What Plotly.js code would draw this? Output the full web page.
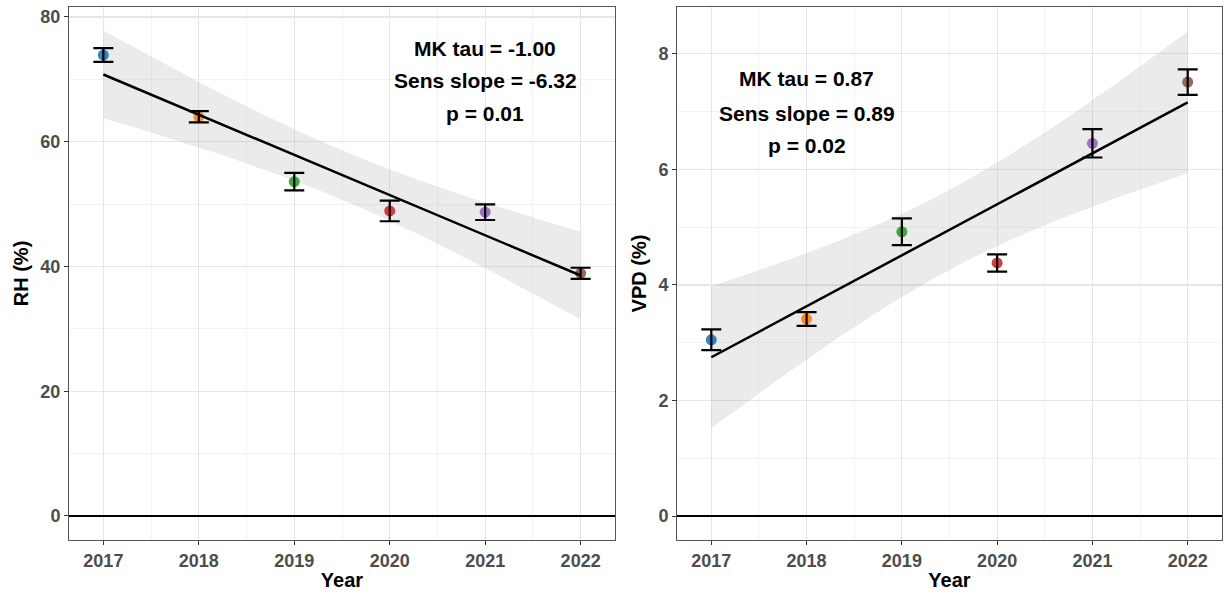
<!DOCTYPE html>
<html>
<head>
<meta charset="utf-8">
<script src="https://cdn.plot.ly/plotly-3.0.1.min.js"></script>
<style>html,body{margin:0;padding:0;background:#fff;}#chart{width:1231px;height:599px;}</style>
</head>
<body>
<div id="chart"></div>
<script>
// ---- data ----
const years = [2017, 2018, 2019, 2020, 2021, 2022];
const yearLabels = ["2017", "2018", "2019", "2020", "2021", "2022"];
const rhMean = [73.9, 64.0, 53.6, 48.9, 48.7, 38.9];
const rhErr = [1.1, 0.9, 1.4, 1.65, 1.25, 0.9];
const vpdMean = [3.05, 3.41, 4.92, 4.38, 6.45, 7.51];
const vpdErr = [0.18, 0.12, 0.23, 0.15, 0.245, 0.22];
const pointColors = ["#1f77b4", "#ff7f0e", "#2ca02c", "#d62728", "#9467bd", "#8c564b"];
const rhStats = ["MK tau = -1.00", "Sens slope = -6.32", "p = 0.01"];
const vpdStats = ["MK tau = 0.87", "Sens slope = 0.89", "p = 0.02"];

// linear fit with 95% CI (like geom_smooth(method = "lm"))
function lmFit(x, y) {
  const n = x.length;
  const mx = x.reduce((a, b) => a + b, 0) / n;
  const my = y.reduce((a, b) => a + b, 0) / n;
  let sxx = 0, sxy = 0;
  for (let i = 0; i < n; i++) { sxx += (x[i] - mx) ** 2; sxy += (x[i] - mx) * (y[i] - my); }
  const b = sxy / sxx, a = my - b * mx;
  let sse = 0;
  for (let i = 0; i < n; i++) sse += (y[i] - (a + b * x[i])) ** 2;
  const s = Math.sqrt(sse / (n - 2));
  const t = 2.776; // t(0.975, df = 4)
  const xs = [], fit = [], lo = [], hi = [];
  const steps = 80;
  for (let k = 0; k <= steps; k++) {
    const xv = x[0] + (x[n - 1] - x[0]) * k / steps;
    const f = a + b * xv;
    const se = s * Math.sqrt(1 / n + (xv - mx) ** 2 / sxx);
    xs.push(xv); fit.push(f); lo.push(f - t * se); hi.push(f + t * se);
  }
  return { xs, fit, lo, hi };
}

function panelTraces(mean, err, xa, ya) {
  const f = lmFit(years, mean);
  const polyX = f.xs.concat(f.xs.slice().reverse());
  const polyY = f.hi.concat(f.lo.slice().reverse());
  return [
    { x: polyX, y: polyY, xaxis: xa, yaxis: ya, type: "scatter", mode: "lines", fill: "toself",
      fillcolor: "rgba(153,153,153,0.2)", line: { width: 0, color: "rgba(0,0,0,0)" }, hoverinfo: "skip", showlegend: false },
    { x: years, y: mean, xaxis: xa, yaxis: ya, type: "scatter", mode: "markers",
      marker: { size: 11, color: pointColors, opacity: 0.9 }, showlegend: false },
    { x: years, y: mean, xaxis: xa, yaxis: ya, type: "scatter", mode: "markers",
      marker: { size: 1, color: "rgba(0,0,0,0)" },
      error_y: { type: "data", array: err, visible: true, color: "#000", thickness: 2.2, width: 10 }, showlegend: false },
    { x: f.xs, y: f.fit, xaxis: xa, yaxis: ya, type: "scatter", mode: "lines",
      line: { color: "#000", width: 2.5 }, showlegend: false }
  ];
}

const data = panelTraces(rhMean, rhErr, "x", "y").concat(panelTraces(vpdMean, vpdErr, "x2", "y2"));

const tickFont = { family: "Liberation Sans, Arial, sans-serif", size: 18, color: "#4d4d4d", weight: "bold" };
const titleFont = { family: "Liberation Sans, Arial, sans-serif", size: 20, color: "#000", weight: "bold" };

function xAxis(domain, anchor) {
  return {
    domain: domain, anchor: anchor, range: [2016.64, 2022.36],
    tickmode: "array", tickvals: years, ticktext: yearLabels,
    ticks: "outside", ticklen: 4, tickcolor: "#333", tickwidth: 1,
    showline: true, mirror: true, linecolor: "#555", linewidth: 1,
    showgrid: true, gridcolor: "#e6e6e6", gridwidth: 1.2,
    minor: { tickvals: [2016.5, 2017.5, 2018.5, 2019.5, 2020.5, 2021.5, 2022.5], showgrid: true, gridcolor: "#f0f0f0", gridwidth: 0.8, ticks: "" },
    zeroline: false, tickfont: tickFont,
    title: { text: "Year", font: titleFont, standoff: 3 }
  };
}
function yAxis(domain, anchor, range, dtick, title) {
  return {
    domain: domain, anchor: anchor, range: range, dtick: dtick, tick0: 0,
    ticks: "outside", ticklen: 4, tickcolor: "#333", tickwidth: 1,
    showline: true, mirror: true, linecolor: "#555", linewidth: 1,
    showgrid: true, gridcolor: "#e6e6e6", gridwidth: 1.2,
    minor: { dtick: dtick / 2, tick0: 0, showgrid: true, gridcolor: "#f0f0f0", gridwidth: 0.8, ticks: "" },
    zeroline: true, zerolinecolor: "#000", zerolinewidth: 1.6,
    tickfont: tickFont,
    title: { text: title, font: titleFont, standoff: 6 }
  };
}

const yDom = [1 - 540 / 599, 1 - 7 / 599];
const annFont = { family: "Liberation Sans, Arial, sans-serif", size: 21, color: "#000", weight: "bold" };
const annotations = [];
const rhAnnY = [75, 69.8, 64.6];
const vpdAnnY = [7.58, 6.97, 6.41];
rhStats.forEach((t, i) => annotations.push({ x: 2021, y: rhAnnY[i], xref: "x", yref: "y", text: t, showarrow: false, font: annFont }));
vpdStats.forEach((t, i) => annotations.push({ x: 2018, y: vpdAnnY[i], xref: "x2", yref: "y2", text: t, showarrow: false, font: annFont }));

const layout = {
  width: 1231, height: 599,
  margin: { l: 0, r: 0, t: 0, b: 0 },
  paper_bgcolor: "#fff", plot_bgcolor: "#fff",
  showlegend: false,
  xaxis: xAxis([69 / 1231, 615 / 1231], "y"),
  yaxis: yAxis(yDom, "x", [-3.85, 81.6], 20, "RH (%)"),
  xaxis2: xAxis([677 / 1231, 1222 / 1231], "y2"),
  yaxis2: yAxis(yDom, "x2", [-0.415, 8.81], 2, "VPD (%)"),
  annotations: annotations
};

Plotly.newPlot("chart", data, layout, { displayModeBar: false, staticPlot: true });
</script>
</body>
</html>
